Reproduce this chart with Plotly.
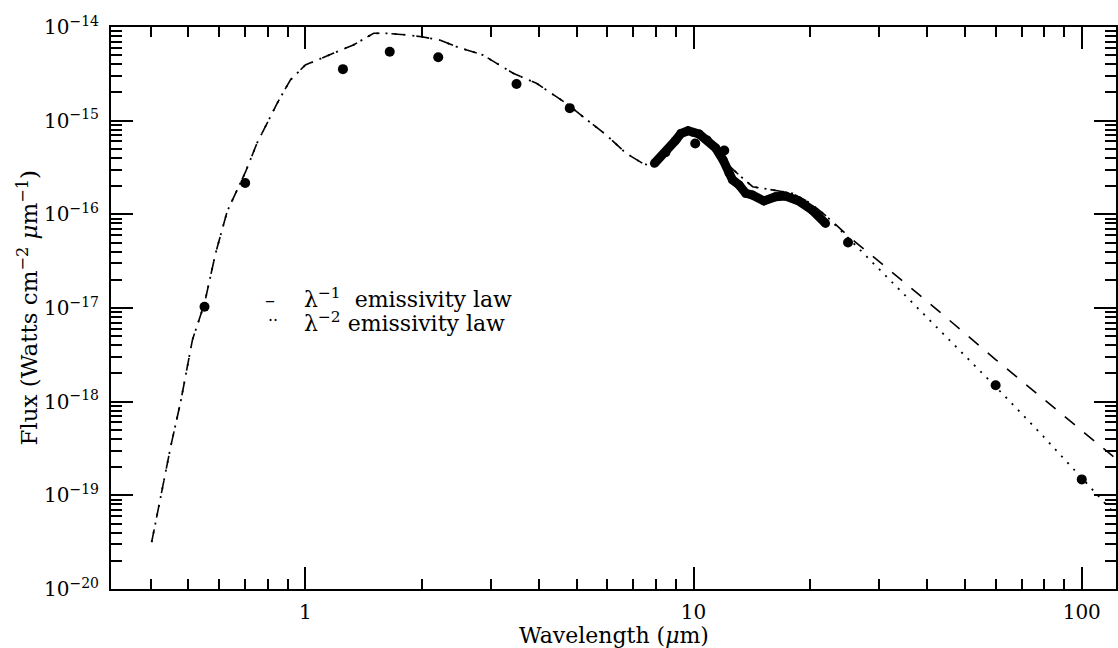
import plotly.graph_objects as go

# Photometric points (wavelength in micron, flux in W cm^-2 um^-1)
phot_wave = [0.55, 0.70, 1.25, 1.65, 2.2, 3.5, 4.8, 10.1, 12.0, 25.0, 60.0, 100.0]
phot_flux = [1.03e-17, 2.16e-16, 3.55e-15, 5.45e-15, 4.75e-15, 2.46e-15, 1.36e-15,
             5.7e-16, 4.8e-16, 5.0e-17, 1.5e-18, 1.48e-19]

# Mid-infrared spectrum
spec_wave = [7.93, 8.49, 8.97, 9.28, 9.68, 10.34, 10.86, 11.41, 11.92, 12.35, 12.6,
             13.1, 13.63, 14.17, 15.18, 16.27, 17.26, 18.67, 20.21, 21.88]
spec_flux = [3.5e-16, 4.57e-16, 6.1e-16, 7.3e-16, 7.8e-16, 7.2e-16, 6.2e-16, 5.1e-16,
             3.8e-16, 2.75e-16, 2.33e-16, 2.06e-16, 1.68e-16, 1.61e-16, 1.39e-16,
             1.54e-16, 1.57e-16, 1.39e-16, 1.11e-16, 8.0e-17]

# Model SED shared by both emissivity laws (log10 flux)
model_wave = [0.402, 0.424, 0.450, 0.4775, 0.512, 0.55, 0.587, 0.629, 0.701, 0.751,
              0.846, 0.915, 1.0, 1.18, 1.33, 1.50, 1.62, 1.825, 1.994, 2.22, 2.45,
              2.87, 3.43, 3.94, 4.70, 5.19, 5.96, 6.70, 7.39, 7.85, 8.5, 9.0, 9.6,
              10.3, 11.0, 11.9, 12.6, 13.1, 14.2, 15.95, 17.96, 20.0, 22.0]
model_logf = [-19.50, -19.01, -18.48, -18.00, -17.34, -16.95, -16.42, -15.97, -15.55,
              -15.24, -14.815, -14.566, -14.406, -14.281, -14.192, -14.067, -14.067,
              -14.085, -14.104, -14.139, -14.21, -14.30, -14.494, -14.601, -14.815,
              -14.958, -15.153, -15.348, -15.455, -15.491, -15.38, -15.25, -15.15,
              -15.17, -15.25, -15.42, -15.52, -15.58, -15.705, -15.74, -15.775,
              -15.88, -16.02]

# Long-wavelength tails for the two emissivity laws (log10 flux)
tail_wave = [25.0, 30.0, 40.0, 60.0, 80.0, 100.0, 125.0]
tail1_logf = [-16.23, -16.50, -16.93, -17.55, -17.98, -18.31, -18.64]   # lambda^-1
tail2_logf = [-16.25, -16.58, -17.11, -17.84, -18.38, -18.82, -19.25]   # lambda^-2

x_ticks = [1, 10, 100]
y_decades = [-20, -19, -18, -17, -16, -15, -14]

wave1 = model_wave + tail_wave
flux1 = [10 ** v for v in model_logf + tail1_logf]
wave2 = model_wave + tail_wave
flux2 = [10 ** v for v in model_logf + tail2_logf]

FONT = "DejaVu Serif"

fig = go.Figure()
fig.add_trace(go.Scatter(x=wave1, y=flux1, mode="lines",
                         line=dict(color="black", width=1.6, dash="13px,12px"),
                         showlegend=False))
fig.add_trace(go.Scatter(x=wave2, y=flux2, mode="lines",
                         line=dict(color="black", width=1.8, dash="2px,7px"),
                         showlegend=False))
fig.add_trace(go.Scatter(x=spec_wave, y=spec_flux, mode="lines+markers",
                         line=dict(color="black", width=9),
                         marker=dict(color="black", size=9),
                         showlegend=False))
fig.add_trace(go.Scatter(x=phot_wave, y=phot_flux, mode="markers",
                         marker=dict(color="black", size=10),
                         showlegend=False))

x_minor = [m * 10.0 ** e for e in (-1, 0, 1) for m in range(2, 10)]
y_minor = [m * 10.0 ** e for e in range(-20, -14) for m in range(2, 10)]

fig.update_xaxes(
    type="log", range=[-0.5005, 2.0882],
    tickvals=x_ticks, ticktext=[str(v) for v in x_ticks],
    ticks="inside", ticklen=22, tickwidth=1.5, tickcolor="black",
    minor=dict(tickvals=x_minor, ticks="inside", ticklen=10, tickwidth=1.5,
               tickcolor="black", showgrid=False),
    showline=True, linewidth=2, linecolor="black", mirror="allticks",
    showgrid=False, zeroline=False,
    tickfont=dict(family=FONT, size=20, color="black"),
    ticklabelstandoff=4,
)
fig.update_yaxes(
    type="log", range=[-20, -14],
    tickvals=[10.0 ** d for d in y_decades],
    ticktext=["10<sup>\u2212%d</sup>" % (-d) for d in y_decades],
    ticks="inside", ticklen=22, tickwidth=1.5, tickcolor="black",
    minor=dict(tickvals=y_minor, ticks="inside", ticklen=11, tickwidth=1.5,
               tickcolor="black", showgrid=False),
    showline=True, linewidth=2, linecolor="black", mirror="allticks",
    showgrid=False, zeroline=False,
    tickfont=dict(family=FONT, size=20, color="black"),
    ticklabelstandoff=6,
)

annotations = [
    dict(text="Wavelength (<i>\u03bc</i>m)", xref="paper", yref="paper",
         x=0.5, y=-0.082, xanchor="center", yanchor="middle", showarrow=False,
         font=dict(family=FONT, size=22, color="black")),
    dict(text="Flux (Watts cm<sup>\u22122</sup> <i>\u03bc</i>m<sup>\u22121</sup>)",
         xref="paper", yref="paper", x=-0.083, y=0.5, textangle=-90,
         xanchor="center", yanchor="middle", showarrow=False,
         font=dict(family=FONT, size=23, color="black")),
    dict(text="\u2013", xref="paper", yref="paper", x=0.158, y=0.515,
         xanchor="center", yanchor="middle", showarrow=False,
         font=dict(family=FONT, size=20, color="black")),
    dict(text="\u00b7\u00b7", xref="paper", yref="paper", x=0.161, y=0.478,
         xanchor="center", yanchor="middle", showarrow=False,
         font=dict(family=FONT, size=16, color="black")),
    dict(text="\u03bb<sup>\u22121</sup>  emissivity law", xref="paper", yref="paper",
         x=0.190, y=0.517, xanchor="left", yanchor="middle", showarrow=False,
         font=dict(family=FONT, size=22, color="black")),
    dict(text="\u03bb<sup>\u22122</sup> emissivity law", xref="paper", yref="paper",
         x=0.190, y=0.475, xanchor="left", yanchor="middle", showarrow=False,
         font=dict(family=FONT, size=22, color="black")),
]

fig.update_layout(
    width=1118, height=648,
    margin=dict(l=111, r=0, t=27, b=59),
    paper_bgcolor="white", plot_bgcolor="white",
    annotations=annotations,
    font=dict(family=FONT, color="black"),
)

fig.write_html("out.html")
